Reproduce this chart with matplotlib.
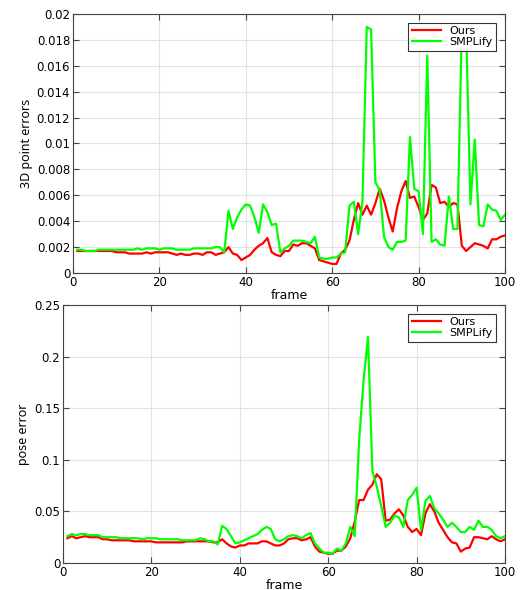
import numpy as np
import matplotlib.pyplot as plt
from matplotlib.ticker import FuncFormatter

frames = np.arange(1, 101)

# 3D point errors
ours_3d = [
    .0017, .0017, .0017, .0017, .0017, .0017, .0017, .0017, .0017, .0016,
    .0016, .0016, .0015, .0015, .0015, .0015, .0016, .0015, .0016, .0016,
    .0016, .0016, .0015, .0014, .0015, .0014, .0014, .0015, .0015, .0014,
    .0016, .0016, .0014, .0015, .0016, .0020, .0015, .0014, .0010, .0012,
    .0014, .0018, .0021, .0023, .0027, .0016, .0014, .0013, .0017, .0017,
    .0022, .0021, .0023, .0023, .0021, .0019, .0010, .0009, .0008, .0007,
    .0007, .0015, .0018, .0025, .0041, .0054, .0045, .0052, .0045, .0054,
    .0065, .0056, .0043, .0032, .0050, .0063, .0071, .0058, .0059, .0051,
    .0041, .0046, .0068, .0066, .0054, .0055, .0051, .0054, .0053, .0021,
    .0017, .0020, .0023, .0022, .0021, .0019, .0026, .0026, .0028, .0029,
]
smplify_3d = [
    .0018, .0018, .0017, .0017, .0017, .0018, .0018, .0018, .0018, .0018,
    .0018, .0018, .0018, .0018, .0019, .0018, .0019, .0019, .0019, .0018,
    .0019, .0019, .0019, .0018, .0018, .0018, .0018, .0019, .0019, .0019,
    .0019, .0019, .0020, .0020, .0016, .0048, .0034, .0043, .0049, .0053,
    .0052, .0043, .0031, .0053, .0047, .0037, .0038, .0016, .0019, .0021,
    .0025, .0025, .0025, .0024, .0023, .0028, .0012, .0011, .0011, .0012,
    .0012, .0015, .0016, .0052, .0055, .0030, .0055, .0190, .0188, .0070,
    .0064, .0028, .0020, .0018, .0024, .0024, .0025, .0105, .0065, .0063,
    .0030, .0168, .0024, .0026, .0022, .0021, .0059, .0034, .0034, .0191,
    .0190, .0053, .0103, .0037, .0036, .0053, .0049, .0048, .0041, .0045,
]

# pose error
ours_pose = [
    .024, .026, .024, .025, .026, .025, .025, .025, .023, .023,
    .022, .022, .022, .022, .022, .021, .021, .021, .021, .021,
    .020, .020, .020, .020, .020, .020, .020, .021, .021, .021,
    .021, .021, .021, .020, .020, .023, .019, .016, .015, .017,
    .017, .019, .019, .019, .021, .021, .019, .017, .017, .019,
    .023, .024, .024, .022, .023, .025, .016, .011, .010, .009,
    .009, .012, .012, .016, .024, .040, .061, .061, .071, .076,
    .086, .081, .041, .042, .048, .052, .046, .035, .030, .033,
    .027, .048, .057, .050, .039, .032, .025, .020, .019, .011,
    .014, .015, .025, .025, .024, .023, .026, .023, .021, .023,
]
smplify_pose = [
    .026, .028, .027, .028, .028, .027, .027, .027, .025, .025,
    .025, .025, .024, .024, .024, .024, .024, .023, .024, .024,
    .024, .023, .023, .023, .023, .023, .022, .022, .022, .022,
    .024, .023, .021, .021, .018, .036, .033, .026, .019, .020,
    .022, .024, .026, .028, .032, .035, .033, .023, .021, .023,
    .026, .027, .026, .024, .027, .029, .019, .014, .010, .010,
    .009, .014, .012, .019, .035, .026, .119, .177, .219, .089,
    .074, .055, .035, .039, .046, .044, .035, .061, .066, .073,
    .032, .060, .065, .053, .048, .042, .035, .039, .035, .030,
    .030, .035, .032, .041, .035, .035, .032, .026, .024, .026,
]


def style_axes(ax):
    ax.grid(True, color='#e3e3e3', linewidth=0.8)
    ax.set_axisbelow(True)
    ax.tick_params(direction='in', top=True, right=True, labelsize=8.5,
                   length=4, pad=2, color='#444444')
    for s in ax.spines.values():
        s.set_color('#444444')
        s.set_linewidth(0.8)
    ax.set_xlim(0, 100)
    ax.set_xticks(np.arange(0, 101, 20))
    ax.set_xlabel('frame', fontsize=9, labelpad=0)
    leg = ax.legend(loc='upper right', fontsize=8, fancybox=False,
                    framealpha=1, edgecolor='#333333', borderpad=0.3,
                    handlelength=2.6, labelspacing=0.1, borderaxespad=0.8)
    leg.get_frame().set_linewidth(0.8)


fig = plt.figure(figsize=(5.22, 5.90), dpi=100)

ax1 = fig.add_axes([73 / 522, 1 - 273 / 590, 432 / 522, 259 / 590])
ax1.plot(frames, ours_3d, color='#ff0000', lw=1.6, label='Ours')
ax1.plot(frames, smplify_3d, color='#00ff00', lw=1.6, label='SMPLify')
ax1.set_ylim(0, 0.02)
ax1.set_yticks(np.arange(0, 0.0201, 0.002))
ax1.yaxis.set_major_formatter(FuncFormatter(lambda v, p: '%g' % round(v, 4)))
ax1.set_ylabel('3D point errors', fontsize=9, labelpad=3, family='Noto Sans')
style_axes(ax1)

ax2 = fig.add_axes([63 / 522, 1 - 563 / 590, 442 / 522, 258 / 590])
ax2.plot(frames, ours_pose, color='#ff0000', lw=1.6, label='Ours')
ax2.plot(frames, smplify_pose, color='#00ff00', lw=1.6, label='SMPLify')
ax2.set_ylim(0, 0.25)
ax2.set_yticks(np.arange(0, 0.251, 0.05))
ax2.yaxis.set_major_formatter(FuncFormatter(lambda v, p: '%g' % round(v, 3)))
ax2.set_ylabel('pose error', fontsize=9, labelpad=3, family='Noto Sans')
style_axes(ax2)

fig.savefig('out.png', dpi=100)
